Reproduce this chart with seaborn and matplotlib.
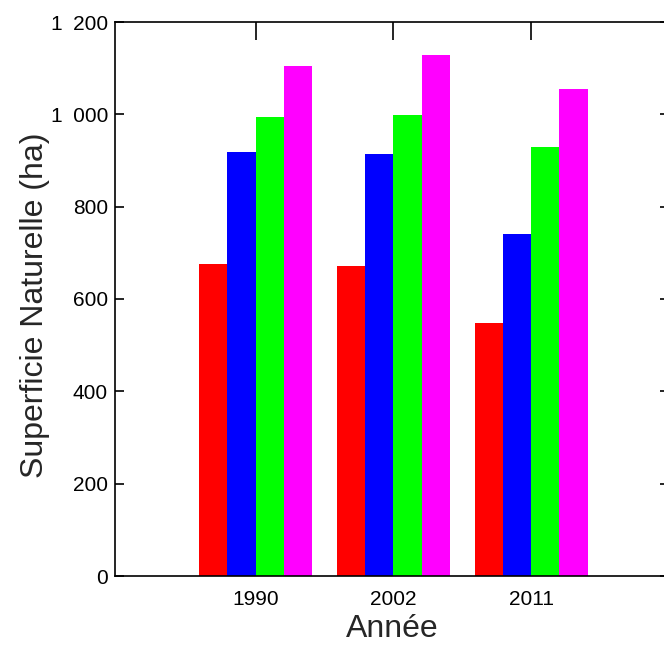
import pandas as pd
import matplotlib
matplotlib.use('Agg')
import matplotlib.pyplot as plt
import seaborn as sns
from matplotlib.ticker import FuncFormatter, MultipleLocator

# values (ha)
annees = ['1990', '2002', '2011']
series = ['Série 1', 'Série 2', 'Série 3', 'Série 4']
serie_1 = [676, 671, 548]
serie_2 = [918, 914, 741]
serie_3 = [994, 998, 929]
serie_4 = [1105, 1128, 1055]
couleurs = ['#ff0000', '#0000ff', '#00ff00', '#ff00ff']

rows = []
for nom, vals in zip(series, [serie_1, serie_2, serie_3, serie_4]):
    for a, v in zip(annees, vals):
        rows.append({'Année': a, 'serie': nom, 'surface': v})
df = pd.DataFrame(rows)

sns.set_style('white')
plt.rcParams['font.family'] = ['Liberation Sans', 'DejaVu Sans']

fig = plt.figure(figsize=(6.64, 6.45), dpi=100)
ax = fig.add_axes([115 / 664, 69 / 645, 554 / 664, 554 / 645])

sns.barplot(data=df, x='Année', y='surface', hue='serie', order=annees,
            hue_order=series, palette=couleurs, width=0.82, saturation=1,
            edgecolor='none', linewidth=0, legend=False, ax=ax)

ax.set_xlim(-1.02, 3.0)
ax.set_ylim(0, 1200)
ax.yaxis.set_major_locator(MultipleLocator(200))
# thousands separated by a space, as in the original
ax.yaxis.set_major_formatter(FuncFormatter(lambda v, p: f'{int(v):,}'.replace(',', '\u2002')))
ax.set_axisbelow(True)

for s in ax.spines.values():
    s.set_visible(True)
    s.set_color('black')
    s.set_linewidth(1.2)

ax.tick_params(axis='y', direction='in', length=6.5, width=1.2, left=True, right=True,
               labelsize=15, pad=5, colors='black')
ax.tick_params(axis='x', direction='in', length=13, width=1.2, bottom=True, top=True,
               labelsize=15, pad=10, colors='black')

ax.set_xlabel('Année', fontsize=23)
ax.set_ylabel('Superficie Naturelle (ha)', fontsize=23)
ax.xaxis.label.set_va('baseline')
ax.yaxis.label.set_va('baseline')
ax.xaxis.set_label_coords(0.5, (576 - 637) / 554)
ax.yaxis.set_label_coords((43 - 115) / 554, (576 - 305) / 554)

fig.savefig('out.png', dpi=100)
